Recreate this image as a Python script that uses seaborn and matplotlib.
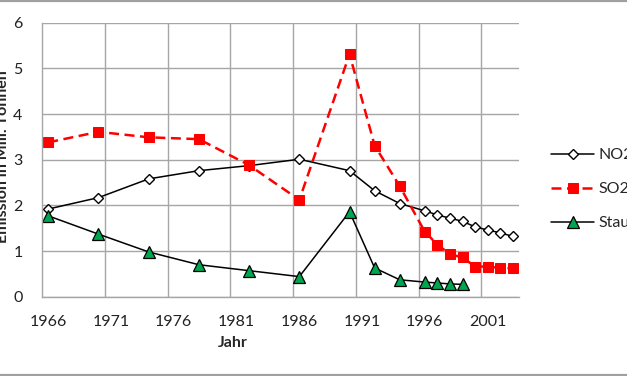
import numpy as np
import pandas as pd
import matplotlib
matplotlib.use('Agg')
import matplotlib.pyplot as plt
import seaborn as sns
from matplotlib.lines import Line2D

years = [1966, 1970, 1974, 1978, 1982, 1986, 1990, 1992, 1994,
         1996, 1997, 1998, 1999, 2000, 2001, 2002, 2003]
no2 = [1.92, 2.17, 2.58, 2.76, 2.87, 3.01, 2.76, 2.32, 2.04,
       1.88, 1.79, 1.72, 1.65, 1.53, 1.46, 1.40, 1.32]
so2 = [3.38, 3.61, 3.49, 3.45, 2.88, 2.12, 5.31, 3.31, 2.42,
       1.42, 1.14, 0.93, 0.86, 0.66, 0.66, 0.63, 0.62]
staub_years = [1966, 1970, 1974, 1978, 1982, 1986, 1990, 1992, 1994,
               1996, 1997, 1998, 1999]
staub = [1.77, 1.37, 0.98, 0.70, 0.57, 0.44, 1.86, 0.63, 0.37,
         0.32, 0.30, 0.28, 0.27]

year_labels = [1966, 1971, 1976, 1981, 1986, 1991, 1996, 2001]

sns.set_style('white')
plt.rcParams['font.family'] = ['Lato', 'DejaVu Sans']

W, H = 627, 376
fs = 11.5
fig = plt.figure(figsize=(W / 100, H / 100), dpi=100)
ax = fig.add_axes([42 / W, 1 - 296.7 / H, (519 - 42) / W, (296.7 - 22.7) / H])

grid_col = '#a6a6a6'
sns.lineplot(x=years, y=no2, ax=ax, color='black', linewidth=1.1,
             marker='D', markersize=5, markerfacecolor='white',
             markeredgecolor='black', markeredgewidth=1.0, label='NO2')
sns.lineplot(x=years, y=so2, ax=ax, color='#ff0000', linewidth=1.8,
             marker='s', markersize=7.5, markerfacecolor='#ff0000',
             markeredgecolor='#ff0000', label='SO2')
ax.lines[-1].set_dashes([4, 2.2])
sns.lineplot(x=staub_years, y=staub, ax=ax, color='black', linewidth=1.1,
             marker='^', markersize=8, markerfacecolor='#00a550',
             markeredgecolor='black', markeredgewidth=0.9, label='Staub')

ax.set_xlim(1965.5, 2003.5)
ax.set_ylim(0, 6)
ax.set_xticks(year_labels)
ax.set_xticklabels([str(y) for y in year_labels])
ax.set_xticks(np.arange(1970.5, 2003, 5), minor=True)
ax.set_yticks(range(0, 7))
ax.tick_params(axis='x', which='major', length=0, pad=13, labelsize=fs, colors='#222222')
ax.tick_params(axis='x', which='minor', length=3, color=grid_col, width=1)
ax.tick_params(axis='y', length=0, pad=14, labelsize=fs, colors='#222222')
ax.grid(False)
ax.grid(True, axis='y', which='major', color=grid_col, linewidth=1)
ax.grid(True, axis='x', which='minor', color=grid_col, linewidth=1)
for s in ['top', 'right']:
    ax.spines[s].set_visible(False)
for s in ['left', 'bottom']:
    ax.spines[s].set_color(grid_col)
    ax.spines[s].set_linewidth(1)
ax.set_xlabel('')
ax.set_ylabel('')

leg = ax.legend(loc='upper left', bbox_to_anchor=(551 / W, 1 - 148 / H),
                bbox_transform=fig.transFigure, frameon=False, fontsize=fs,
                handlelength=2.7, handletextpad=0.25, labelspacing=1.25,
                borderpad=0, borderaxespad=0, numpoints=1)

fig.text(233 / W, 1 - 343 / H, 'Jahr', ha='center', va='center',
         fontsize=fs, fontweight='bold')
fig.text(3.5 / W, 1 - 157 / H, 'Emission in Mill. Tonnen', ha='center',
         va='center', rotation=90, fontsize=fs, fontweight='bold')

for yp in [1, 374.5]:
    fig.add_artist(Line2D([0, 1], [1 - yp / H, 1 - yp / H],
                          transform=fig.transFigure, color='#a0a0a0', linewidth=1.6))

fig.savefig('out.png', dpi=100)
